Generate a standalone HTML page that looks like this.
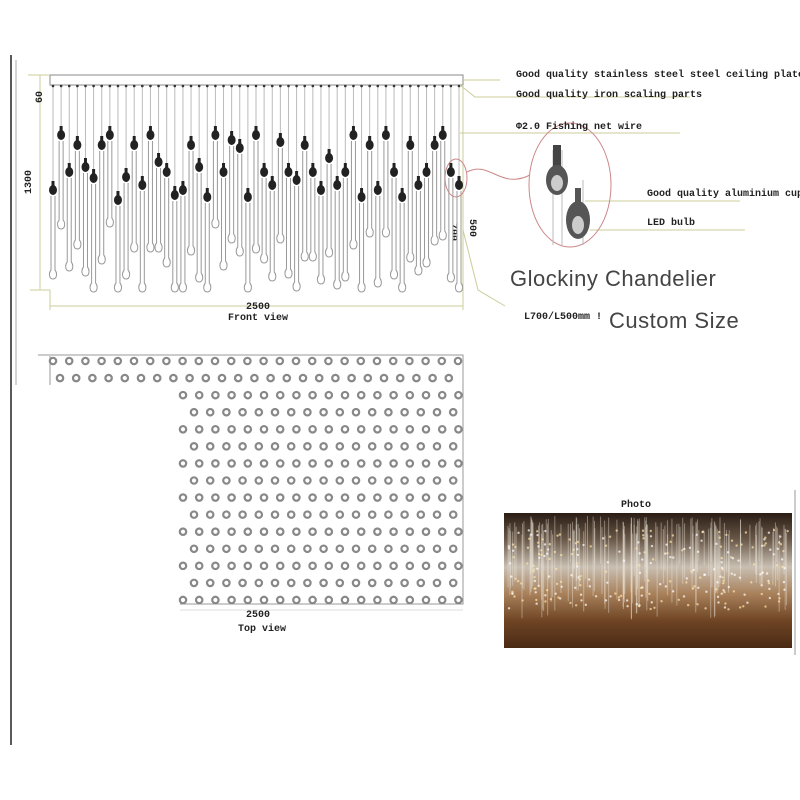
<!DOCTYPE html>
<html><head><meta charset="utf-8"><style>
html,body{margin:0;padding:0;background:#fff;width:800px;height:800px;overflow:hidden}
svg{display:block}
.t{font-family:"Liberation Mono",monospace;font-weight:bold;font-size:10px;fill:#222}
.big{font-family:"Liberation Sans",sans-serif;font-size:22px;fill:#444;letter-spacing:0.5px}
</style></head><body>
<svg id="s" width="800" height="800" viewBox="0 0 800 800" xmlns="http://www.w3.org/2000/svg">
<defs>
<linearGradient id="ph" x1="0" y1="0" x2="0" y2="1">
<stop offset="0" stop-color="#2a1d14"/>
<stop offset="0.2" stop-color="#6b5a4a"/>
<stop offset="0.4" stop-color="#c9bfb2"/>
<stop offset="0.6" stop-color="#a8805a"/>
<stop offset="0.8" stop-color="#6e4424"/>
<stop offset="1" stop-color="#4a2a14"/>
</linearGradient>
</defs>
<line x1="11" y1="55" x2="11" y2="745" stroke="#222" stroke-width="1.5"/>
<line x1="16" y1="60" x2="16" y2="385" stroke="#aaa" stroke-width="1"/>
<rect x="50" y="75" width="413" height="10" fill="none" stroke="#888" stroke-width="1"/>
<line x1="28" y1="75" x2="50" y2="75" stroke="#cc9" stroke-width="1"/>
<line x1="40" y1="75" x2="40" y2="290" stroke="#cc9" stroke-width="1"/>
<line x1="30" y1="290" x2="50" y2="290" stroke="#cc9" stroke-width="1"/>
<line x1="50" y1="290" x2="50" y2="310" stroke="#cc9" stroke-width="1"/>
<line x1="463" y1="85" x2="463" y2="310" stroke="#cc9" stroke-width="1"/>
<line x1="50" y1="306" x2="463" y2="306" stroke="#cc9" stroke-width="1"/>
<text class="t" x="42" y="97" transform="rotate(-90 42 97)" text-anchor="middle" font-size="9">60</text>
<text class="t" x="31" y="182" transform="rotate(-90 31 182)" text-anchor="middle" font-size="9">1300</text>
<text class="t" x="258" y="309" text-anchor="middle" font-size="9">2500</text>
<text class="t" x="258" y="320" text-anchor="middle" font-size="9">Front view</text>
<text class="t" x="451" y="232" transform="rotate(90 451 232)" text-anchor="middle" font-size="9">700</text>
<text class="t" x="470" y="228" transform="rotate(90 470 228)" text-anchor="middle" font-size="9">500</text>
<g id="pend"></g>
<g stroke="#cc9" fill="none" stroke-width="1">
<polyline points="463,80 500,80"/>
<polyline points="460,85 475,97 690,97"/>
<polyline points="460,133 680,133"/>
<polyline points="463,230 478,290 505,306"/>
<polyline points="585,201 740,201"/>
<polyline points="590,230 745,230"/>
</g>
<g stroke="#c88" fill="none" stroke-width="1">
<ellipse cx="456" cy="178" rx="11" ry="19"/>
<path d="M467,172 C490,160 500,190 530,175"/>
<ellipse cx="570" cy="185" rx="41" ry="62"/>
</g>
<line x1="553" y1="150" x2="553" y2="245" stroke="#bbb"/>
<line x1="562" y1="150" x2="562" y2="245" stroke="#bbb"/>
<line x1="583" y1="180" x2="583" y2="245" stroke="#bbb"/>
<rect x="553" y="145" width="8" height="22" fill="#444"/>
<ellipse cx="557" cy="180" rx="11" ry="15" fill="#555"/>
<ellipse cx="557" cy="183" rx="6" ry="8" fill="#ccc"/>
<rect x="575" y="188" width="6" height="18" fill="#555"/>
<ellipse cx="578" cy="220" rx="12" ry="19" fill="#555"/>
<ellipse cx="578" cy="225" rx="6" ry="9" fill="#ccc"/>
<text class="t" x="516" y="77">Good quality stainless steel steel ceiling plate</text>
<text class="t" x="516" y="97">Good quality iron scaling parts</text>
<text class="t" x="516" y="129">Φ2.0 Fishing net wire</text>
<text class="t" x="647" y="196">Good quality aluminium cup</text>
<text class="t" x="647" y="225">LED bulb</text>
<text class="big" x="510" y="286">Glockiny Chandelier</text>
<text class="t" x="524" y="319" font-size="9">L700/L500mm !</text>
<text class="big" x="609" y="328">Custom Size</text>
<polyline points="38,355 463,355 463,604 180,604" fill="none" stroke="#999"/>
<line x1="50" y1="356" x2="50" y2="385" stroke="#999"/>
<line x1="180" y1="610" x2="463" y2="610" stroke="#ddd"/>
<g id="dots"></g>
<text class="t" x="258" y="617" text-anchor="middle" font-size="9">2500</text>
<text class="t" x="262" y="631" text-anchor="middle" font-size="9">Top view</text>
<text class="t" x="636" y="507" text-anchor="middle">Photo</text>
<rect x="504" y="513" width="288" height="135" fill="url(#ph)"/>
<g id="ph2"></g>
<line x1="795" y1="490" x2="795" y2="655" stroke="#999"/>
</svg>
<script>
var NS="http://www.w3.org/2000/svg";
function el(p,n,a){var e=document.createElementNS(NS,n);for(var k in a)e.setAttribute(k,a[k]);p.appendChild(e);return e;}
var hy=[190,135,172,145,167,178,145,135,200,177,145,185,135,162,172,195,190,145,167,197,135,172,140,148,197,135,172,185,142,172,180,145,172,190,158,185,172,135,197,145,190,135,172,197,145,185,172,145,135,172,185];
var g=document.getElementById('pend');
for(var i=0;i<hy.length;i++){
 var x=53+i*8.12,y=hy[i],L=80+((i*37)%32);
 if(y+L+9>292)L=283-y;
 el(g,'line',{x1:x,y1:86,x2:x,y2:y,stroke:'#bbb','stroke-width':1});
 el(g,'circle',{cx:x,cy:86,r:1.3,fill:'#333'});
 el(g,'path',{d:'M'+(x-2)+','+(y+6)+' L'+(x-2)+','+(y+L)+' C'+(x-4.5)+','+(y+L+3)+' '+(x-4)+','+(y+L+9)+' '+x+','+(y+L+9)+' C'+(x+4)+','+(y+L+9)+' '+(x+4.5)+','+(y+L+3)+' '+(x+2)+','+(y+L)+' L'+(x+2)+','+(y+6),fill:'#fff',stroke:'#999','stroke-width':1});
 el(g,'rect',{x:x-1.5,y:y-9,width:3,height:6,fill:'#222'});
 el(g,'ellipse',{cx:x,cy:y,rx:4,ry:5,fill:'#222'});
}
var d=document.getElementById('dots');
for(var r=0;r<15;r++){
 var yy=361+r*17.07;
 var xs=(r%2===0)?(r===0?50:180):(r===1?57:191);
 for(var x=xs;x<=461;x+=16.2){
   el(d,'circle',{cx:x+3,cy:yy,r:3.2,fill:'none',stroke:'#888','stroke-width':2.2});
 }
}
var p=document.getElementById('ph2');
var s=7;function rnd(){s=(s*9301+49297)%233280;return s/233280;}
for(var k=0;k<140;k++){
 var x=508+rnd()*280,y1=516+rnd()*20,y2=560+rnd()*60;
 el(p,'line',{x1:x,y1:y1,x2:x,y2:y2,stroke:'rgba(240,235,225,0.4)','stroke-width':1});
}
for(var k=0;k<250;k++){
 el(p,'circle',{cx:508+rnd()*280,cy:530+rnd()*80,r:1.2,fill:(rnd()<0.5?'rgba(255,230,170,0.7)':'rgba(255,255,255,0.7)')});
}
</script>
</body></html>
